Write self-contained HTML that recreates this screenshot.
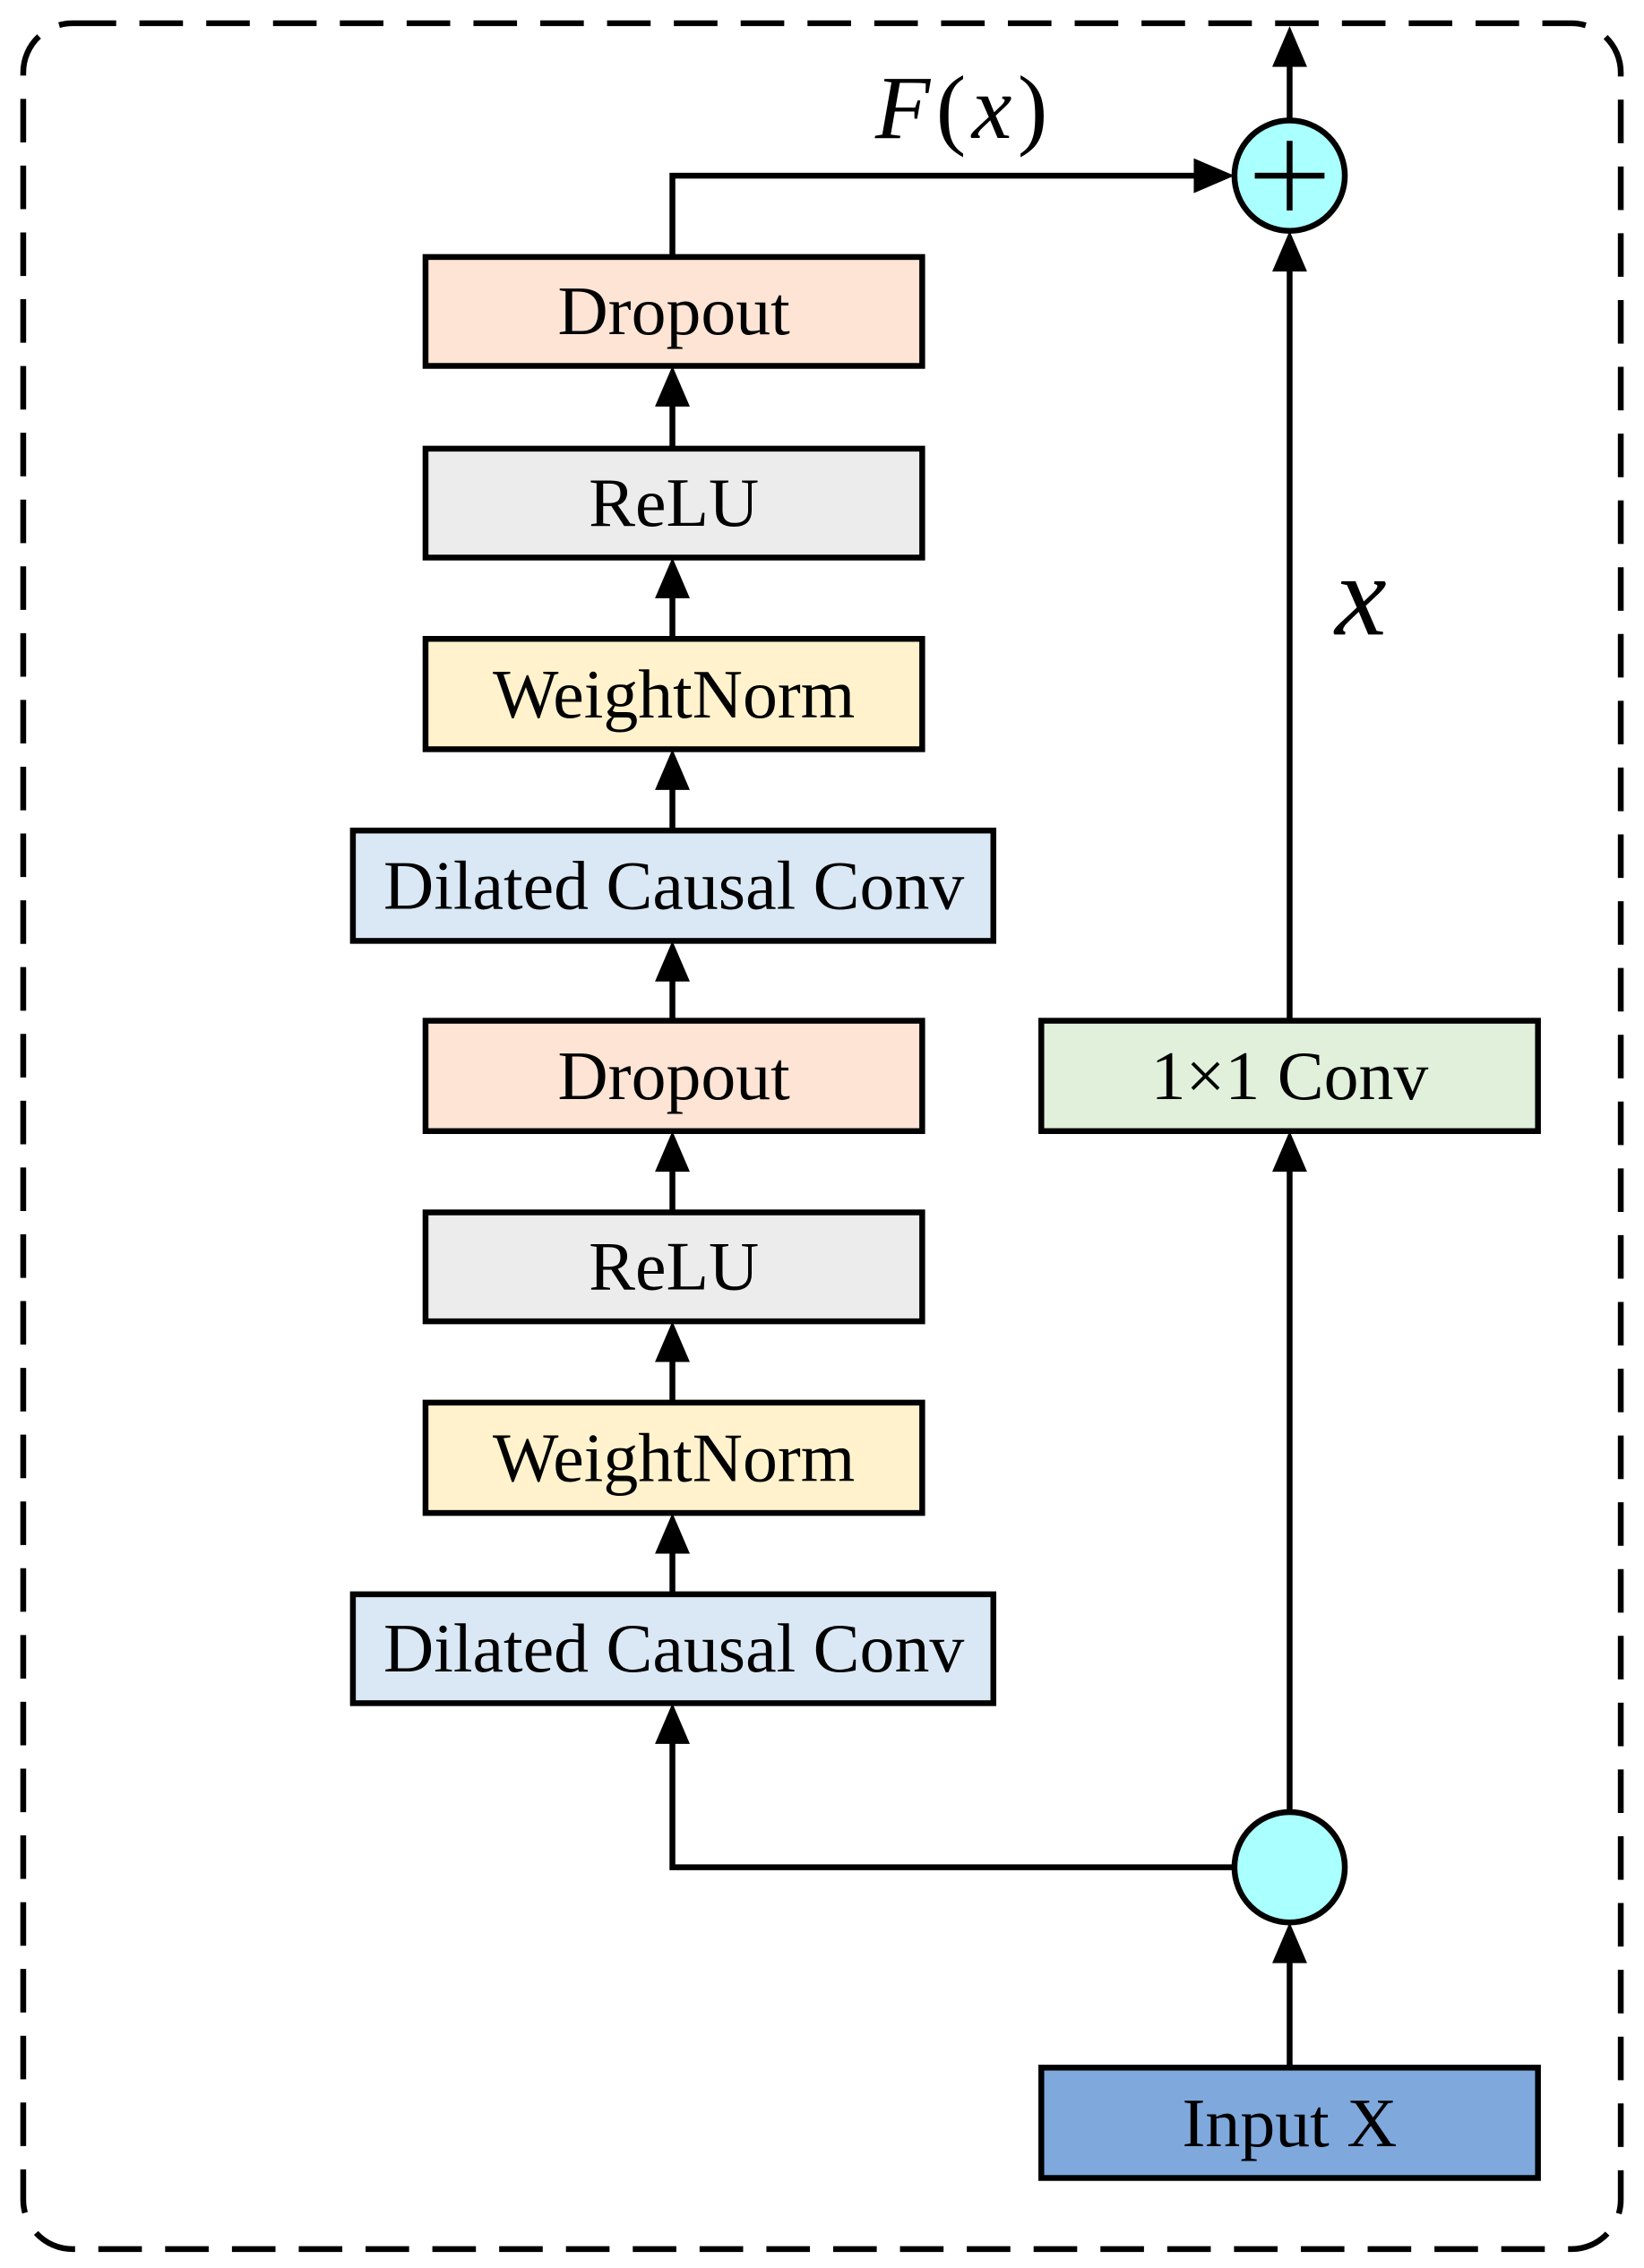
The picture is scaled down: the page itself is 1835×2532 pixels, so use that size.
<!DOCTYPE html>
<html><head><meta charset="utf-8"><style>html,body{margin:0;padding:0;background:#fff}svg{display:block}</style></head>
<body>
<svg width="1835" height="2532" viewBox="0 0 1132 1562" preserveAspectRatio="none" xmlns="http://www.w3.org/2000/svg">
<rect x="16" y="16" width="1100" height="1533" rx="34" ry="34" fill="none" stroke="#000" stroke-width="4" stroke-dasharray="30,16"/>
<g stroke="#000" stroke-width="4" fill="none">
<path d="M463 177 V121 H830"/>
<path d="M888 83 V40"/>
<path d="M888 703 V180"/>
<path d="M888 1248 V800"/>
<path d="M888 1424 V1345"/>
<path d="M850 1286 H463 V1195"/>
<path d="M463 309 V275"/><path d="M463 440 V405"/><path d="M463 572 V537"/>
<path d="M463 703 V669"/><path d="M463 835 V800"/><path d="M463 966 V931"/><path d="M463 1098 V1063"/>
</g>
<g fill="#000">
<polygon points="850,121 822,109 822,133"/>
<polygon points="888,18 876,46 900,46"/>
<polygon points="888,159 876,187 900,187"/>
<polygon points="888,779 876,807 900,807"/>
<polygon points="888,1324 876,1352 900,1352"/>
<polygon points="463,1173 451,1201 475,1201"/>
<polygon points="463,252 451,280 475,280"/>
<polygon points="463,384 451,412 475,412"/>
<polygon points="463,516 451,544 475,544"/>
<polygon points="463,648 451,676 475,676"/>
<polygon points="463,779 451,807 475,807"/>
<polygon points="463,910 451,938 475,938"/>
<polygon points="463,1042 451,1070 475,1070"/>
</g>
<g stroke="#000" stroke-width="4">
<rect x="293" y="177" width="342" height="75" fill="#fde4d4"/>
<rect x="293" y="309" width="342" height="75" fill="#ececec"/>
<rect x="293" y="440" width="342" height="76" fill="#fff2cc"/>
<rect x="243" y="572" width="441" height="76" fill="#dae8f5"/>
<rect x="293" y="703" width="342" height="76" fill="#fde4d4"/>
<rect x="293" y="835" width="342" height="75" fill="#ececec"/>
<rect x="293" y="966" width="342" height="76" fill="#fff2cc"/>
<rect x="243" y="1098" width="441" height="75" fill="#dae8f5"/>
<rect x="717" y="703" width="342" height="76" fill="#e0f0da"/>
<rect x="717" y="1424" width="342" height="76" fill="#7fa8dc"/>
<circle cx="888" cy="121" r="38" fill="#aaffff"/>
<circle cx="888" cy="1286" r="38" fill="#aaffff"/>
<path d="M888 97 V145 M864 121 H912" fill="none"/>
</g>
<g font-family="Liberation Serif, serif" font-size="48" text-anchor="middle" fill="#000">
<text x="464" y="230">Dropout</text>
<text x="464" y="362">ReLU</text>
<text x="464" y="494">WeightNorm</text>
<text x="464" y="626">Dilated Causal Conv</text>
<text x="464" y="757">Dropout</text>
<text x="464" y="888">ReLU</text>
<text x="464" y="1020">WeightNorm</text>
<text x="464" y="1151">Dilated Causal Conv</text>
<text x="888" y="757">1×1 Conv</text>
<text x="888" y="1478">Input X</text>
<text x="664" y="95" font-size="62" letter-spacing="4"><tspan font-style="italic">F</tspan>(<tspan font-style="italic">x</tspan>)</text>
<text x="937" y="437" font-size="80" font-style="italic">x</text>
</g>
</svg>
</body></html>
